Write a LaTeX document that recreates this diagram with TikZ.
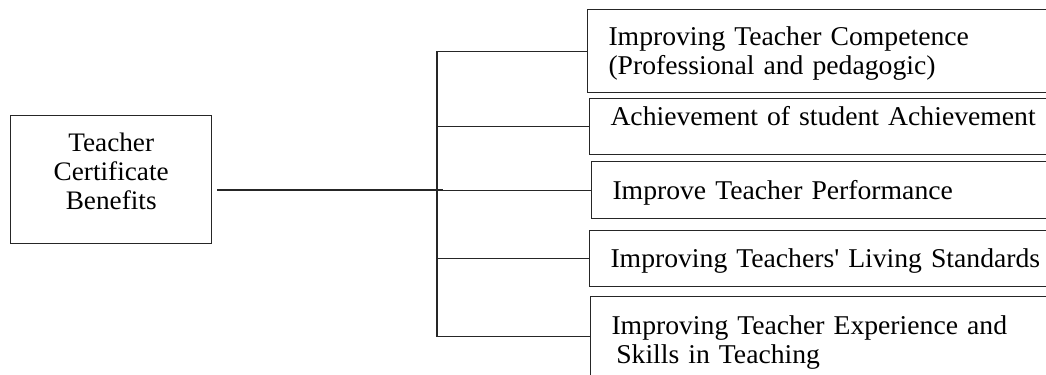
\documentclass[tikz,border=0pt]{standalone}
\usepackage{fontspec}
\setmainfont{Liberation Serif}[FakeStretch=1.02,WordSpace=0.7]
\usetikzlibrary{calc}
\usetikzlibrary{positioning}
\colorlet{colorLine}{black!85}
\tikzset{
   link/.style={color=colorLine,line width=1pt},
   topic/.style={draw=colorLine,line width=1pt,anchor=north west,align=center,
                 text width=5.025cm,inner xsep=0pt,inner ysep=0pt,
                 text height=0.9cm,text depth=2.3cm,
                 font=\fontsize{19}{20.6}\selectfont},
   benefit/.style={draw=colorLine,line width=1pt,anchor=north west,align=left,
                   text width=11cm,inner xsep=0.52cm,inner ysep=0pt,
                   font=\fontsize{19.3}{20.6}\selectfont},
}

\begin{document}
\begin{tikzpicture}
        \useasboundingbox (0,0) rectangle (26.15,-9.35);
        \clip (0,0) rectangle (26.15,-9.35);

        \node[topic] (cert) at (0.25,-2.875) {Teacher\\Certificate\\Benefits};

        \coordinate (hub) at (11.075,-4.75);
        \coordinate (bus) at (10.925,0);

        \node[benefit, text height=0.9cm,   text depth=1.175cm] (b1) at (14.675,-0.225)
             {Improving Teacher Competence\\(Professional and pedagogic)};
        \node[benefit, text height=0.675cm, text depth=0.725cm] (b2) at (14.725,-2.45)
             {Achievement of student Achievement};
        \node[benefit, text height=0.95cm,  text depth=0.475cm] (b3) at (14.775,-4.025)
             {Improve Teacher Performance};
        \node[benefit, text height=0.925cm, text depth=0.475cm] (b4) at (14.725,-5.75)
             {Improving Teachers\textquotesingle{} Living Standards};
        \node[benefit, text height=0.95cm,  text depth=1.05cm]  (b5) at (14.75,-7.4)
             {Improving Teacher Experience and\\\hspace*{0.12cm}Skills in Teaching};

        % trunk from the left box to the bus
        \draw[link] ([xshift=0.125cm]cert.east |- hub) -- (hub);
        \draw[link] (bus |- b1.west) -- (bus |- b5.west);

        \foreach \b in {b1,b2,b3,b4,b5}
            \draw[link] (bus |- \b.west) -- (\b.west);
      \end{tikzpicture}
\end{document}
